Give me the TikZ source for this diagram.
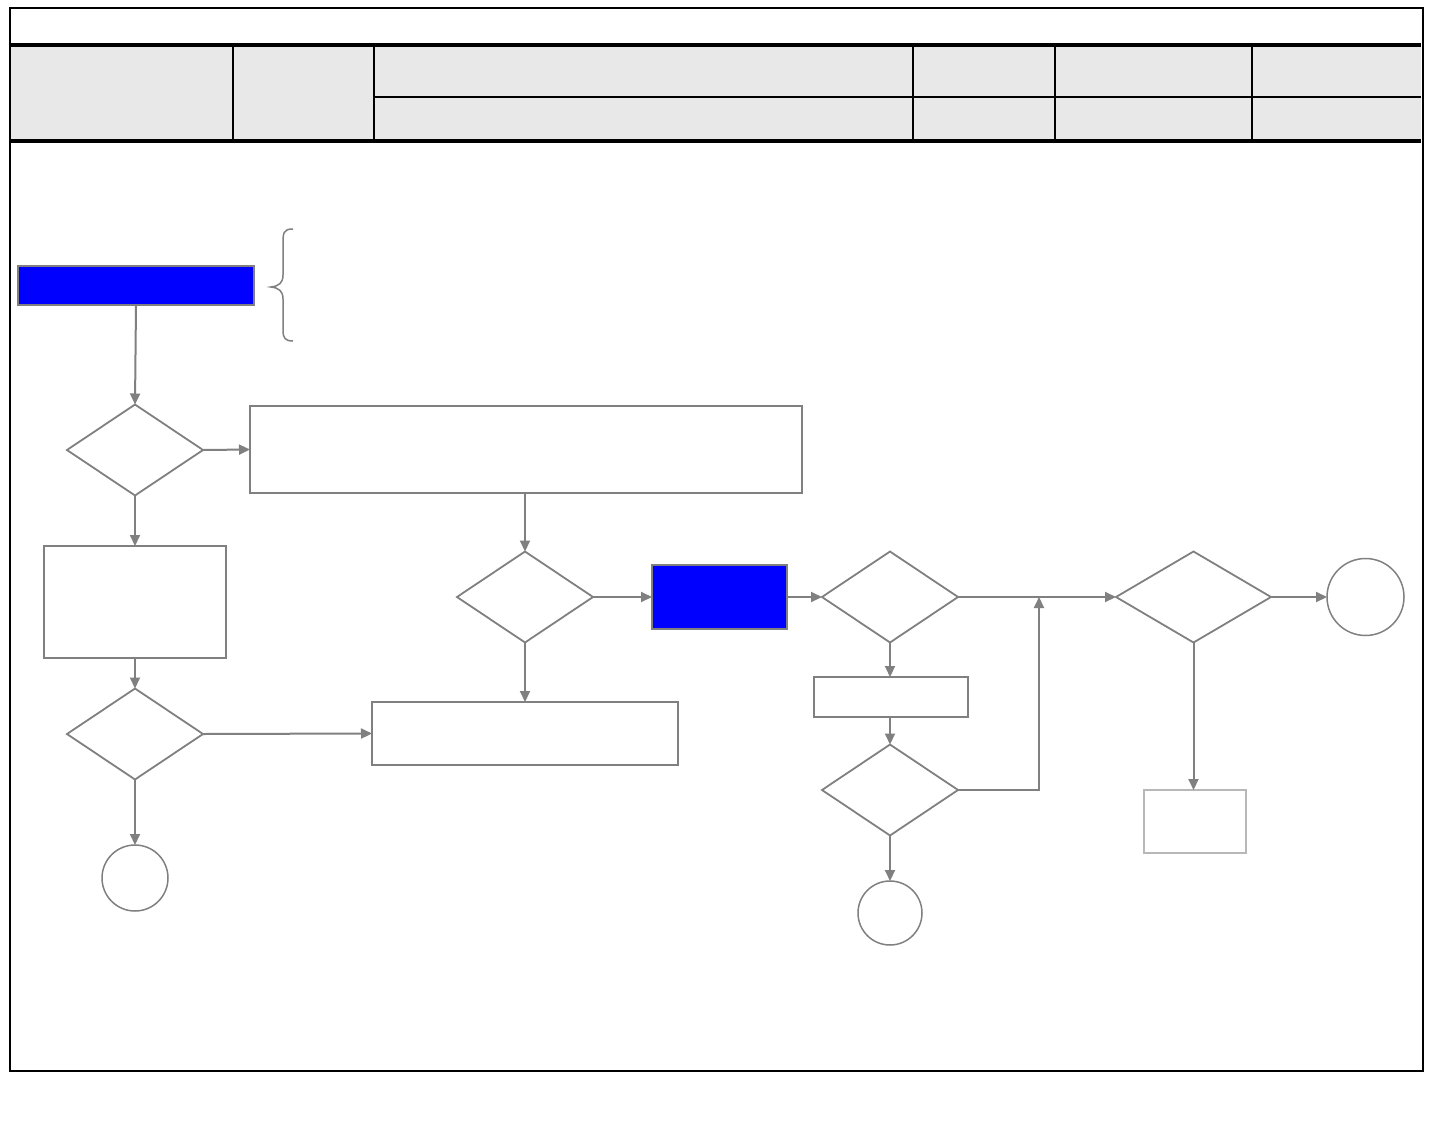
\documentclass[tikz,border=0pt]{standalone}
\usetikzlibrary{shapes.geometric,arrows.meta,decorations.pathreplacing}
\definecolor{ln}{HTML}{808080}
\definecolor{lightln}{HTML}{B8B8B8}
\definecolor{hdr}{HTML}{E8E8E8}
\definecolor{bluefill}{HTML}{0000FF}
\tikzset{
  box/.style={draw=ln, line width=1.8pt, fill=white, inner sep=0pt, outer sep=0pt},
  thinbox/.style={draw=ln, line width=1.2pt, fill=white, inner sep=0pt, outer sep=0pt},
  palebox/.style={draw=lightln, line width=1.5pt, fill=white, inner sep=0pt, outer sep=0pt},
  bluebox/.style={draw=ln, line width=1.8pt, fill=bluefill, inner sep=0pt, outer sep=0pt},
  dec/.style={diamond, draw=ln, line width=1.8pt, inner sep=0pt, outer sep=0pt, minimum width=136pt, minimum height=91pt},
  term/.style={circle, draw=ln, line width=1.5pt, inner sep=0pt, outer sep=0pt},
  conn/.style={draw=ln, line width=2pt, -{Triangle[length=11pt,width=10pt]}},
  plain/.style={draw=ln, line width=2pt},
  rule/.style={draw=black, line width=2pt},
  thickrule/.style={draw=black, line width=3.2pt}
}
\begin{document}
\begin{tikzpicture}[x=1pt,y=-1pt]
\useasboundingbox (0,0) rectangle (1440,1137);
\fill[white] (0,0) rectangle (1440,1137);
% header
\fill[hdr] (11,46) rectangle (1421,141);
\draw[rule] (10,8) rectangle (1423,1071);
\draw[thickrule] (10,45) -- (1421,45);
\draw[thickrule] (10,141) -- (1421,141);
\draw[rule] (233,45) -- (233,141);
\draw[rule] (374,45) -- (374,141);
\draw[rule] (913,45) -- (913,141);
\draw[rule] (1055,45) -- (1055,141);
\draw[rule] (1252,45) -- (1252,141);
\draw[rule] (374,97) -- (1421,97);
% flowchart nodes
\node[bluebox, minimum width=236pt, minimum height=39pt] (start) at (136,285.5) {};
\draw[draw=ln, line width=1.5pt] (293,229) .. controls (283,229) and (283,233) .. (283,245) -- (283,275)
  .. controls (283,283) and (279,286) .. (271,287) .. controls (279,288) and (283,291) .. (283,299)
  -- (283,330) .. controls (283,338) and (285,341) .. (293,341);
\node[dec] (d1) at (135,450) {};
\node[box, minimum width=552pt, minimum height=87pt] (r1) at (526,449.5) {};
\node[thinbox, minimum width=182pt, minimum height=112pt] (r2) at (135,602) {};
\node[dec] (d2) at (135,734) {};
\node[thinbox, minimum width=306pt, minimum height=63pt] (r3) at (525,733.5) {};
\node[term, minimum size=66pt] (c1) at (135,878) {};
\node[dec] (d3) at (525,597) {};
\node[bluebox, minimum width=135pt, minimum height=64pt] (b2) at (719.5,597) {};
\node[dec] (d4) at (890,597) {};
\node[dec, minimum width=155pt] (d5) at (1193.5,597) {};
\node[box, minimum width=154pt, minimum height=40pt] (r4) at (891,697) {};
\node[dec] (d6) at (890,790) {};
\node[term, minimum size=64pt] (c2) at (890,913) {};
\node[term, minimum size=77pt] (c3) at (1365.5,597) {};
\node[palebox, minimum width=102pt, minimum height=63pt] (r5) at (1195,821.5) {};
\coordinate (j) at (1039,597);
% connectors
\draw[conn] (start.south) -- (d1.north);
\draw[conn] (d1.east) -- (r1.west);
\draw[conn] (d1.south) -- (r2.north);
\draw[conn] (r2.south) -- (d2.north);
\draw[conn] (d2.east) -- (r3.west);
\draw[conn] (d2.south) -- (c1.north);
\draw[conn] (r1.south -| d3.north) -- (d3.north);
\draw[conn] (d3.east) -- (b2.west);
\draw[conn] (d3.south) -- (r3.north -| d3.south);
\draw[conn] (b2.east) -- (d4.west);
\draw[conn] (d4.east) -- (d5.west);
\draw[conn] (d4.south) -- (r4.north -| d4.south);
\draw[conn] (r4.south -| d6.north) -- (d6.north);
\draw[conn] (d6.east) -| (j);
\draw[conn] (d6.south) -- (c2.north);
\draw[conn] (d5.east) -- (c3.west);
\draw[conn] (d5.south) -- (r5.north -| d5.south);
\end{tikzpicture}
\end{document}
